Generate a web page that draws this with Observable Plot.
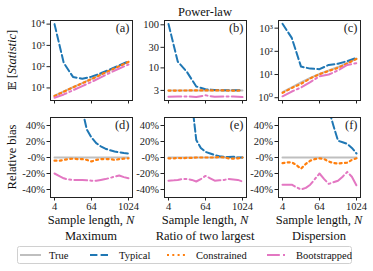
<!DOCTYPE html>
<html><head><meta charset="utf-8">
<script src="https://cdn.jsdelivr.net/npm/d3@7"></script>
<script src="https://cdn.jsdelivr.net/npm/@observablehq/plot@0.6"></script>
<style>
body{margin:0;background:#fff;}
#fig{position:relative;width:373px;height:271px;overflow:hidden;font-family:'Liberation Serif','Times New Roman',Tinos,'DejaVu Serif',serif;}
#fig svg{position:absolute;}
#fig text{font-family:'Liberation Serif','Times New Roman',Tinos,'DejaVu Serif',serif;}
</style></head><body><div id="fig"></div>
<script>
// ---- data ----
const N9 = [4, 8, 16, 32, 64, 128, 256, 512, 1024];
const N17 = [4, 6, 8, 11, 16, 23, 32, 45, 64, 91, 128, 181, 256, 362, 512, 724, 1024];
const seriesNames = ["True", "Typical", "Constrained", "Bootstrapped"];
const statNames = ["Maximum", "Ratio of two largest", "Dispersion"];
const panelLabels = ["(a)", "(b)", "(c)", "(d)", "(e)", "(f)"];
const xTicks = [4, 64, 1024];
const yTicksMax = [10, 100, 1000, 10000];
const yTicksRatio = [3, 10, 30, 100];
const yTicksDisp = [1, 10, 100, 1000];
const yTicksBias = [-0.4, -0.2, 0, 0.2, 0.4];

// expected statistic (top row)
const maxTrue = [4.3, 6.8, 10.8, 17, 27, 43, 68, 108, 170];
const maxTypical = [10000, 150, 33, 27, 34, 49, 74, 115, 178];
const maxConstrained = [4.15, 6.6, 10.6, 16.7, 25.7, 41.8, 66.6, 105, 168];
const maxBoot = [3.45, 4.95, 7.8, 12.2, 19.2, 31.4, 51.7, 82, 126];

const ratTrue = [3, 3, 3, 3, 3, 3, 3, 3, 3];
const ratTypical = [104, 14, 8, 3.7, 3.2, 3.08, 3.03, 3.02, 3.0];
const ratConstrained = [2.97, 2.98, 2.99, 3.0, 3.0, 3.0, 3.0, 2.96, 3.0];
const ratBoot = [2.13, 2.16, 2.18, 2.1, 2.31, 2.13, 2.16, 2.17, 2.1];

const dispTrue = [1.74, 2.8, 4.6, 7.1, 10.5, 15, 21, 32, 48];
const dispTypical = [1550, 380, 22, 18, 17, 26, 29, 38, 52];
const dispConstrained = [1.62, 2.63, 3.96, 6.8, 10.4, 14.3, 19.3, 30, 47.5];
const dispBoot = [1.15, 1.85, 2.76, 4.7, 8.4, 10, 15, 26, 31];

// relative bias (bottom row)
const biasTrue = [0, 0, 0, 0, 0, 0, 0, 0, 0, 0, 0, 0, 0, 0, 0, 0, 0];
const maxTypBias = [2300, 100, 20, 5, 2.0, 1.0, 0.6, 0.35, 0.25, 0.18, 0.14, 0.11, 0.09, 0.075, 0.065, 0.055, 0.05];
const maxConBias = [-0.04, -0.04, -0.03, -0.02, -0.015, -0.02, -0.02, -0.03, -0.05, -0.03, -0.02, -0.02, -0.02, -0.03, -0.02, -0.015, -0.01];
const maxBootBias = [-0.20, -0.235, -0.26, -0.275, -0.28, -0.28, -0.28, -0.285, -0.29, -0.29, -0.28, -0.27, -0.255, -0.24, -0.225, -0.245, -0.26];

const ratTypBias = [33, 10, 3.7, 2.0, 1.6, 0.7, 0.22, 0.12, 0.07, 0.05, 0.03, 0.015, 0.01, 0.005, 0.01, 0.0, 0.0];
const ratConBias = [-0.01, -0.01, -0.005, -0.01, -0.005, -0.005, 0, 0, 0, 0, 0, 0.005, 0, -0.01, -0.015, -0.01, 0];
const ratBootBias = [-0.29, -0.285, -0.28, -0.27, -0.27, -0.28, -0.30, -0.27, -0.23, -0.26, -0.29, -0.285, -0.28, -0.27, -0.275, -0.28, -0.30];

const dispTypBias = [890, 300, 130, 30, 4, 1.8, 1.6, 1.2, 0.8, 0.7, 0.6, 0.4, 0.21, 0.19, 0.17, 0.12, 0.05];
const dispConBias = [-0.07, -0.06, -0.06, -0.09, -0.14, -0.08, -0.04, -0.02, -0.01, -0.02, -0.05, -0.07, -0.075, -0.07, -0.065, -0.03, -0.01];
const dispBootBias = [-0.34, -0.34, -0.34, -0.37, -0.40, -0.38, -0.34, -0.27, -0.20, -0.27, -0.33, -0.31, -0.29, -0.24, -0.18, -0.24, -0.35];

// ---- styles / layout ----
const FONT = "'Liberation Serif','Times New Roman',Tinos,'DejaVu Serif',serif";
const STY = {
  True: {stroke: "#bfbfbf", strokeWidth: 2},
  Typical: {stroke: "#1f77b4", strokeWidth: 2, strokeDasharray: "7.4,3.2"},
  Constrained: {stroke: "#ff7f0e", strokeWidth: 2.2, strokeDasharray: "2,3.3"},
  Bootstrapped: {stroke: "#e377c2", strokeWidth: 2, strokeDasharray: "12.8,3.2,2,3.2"}
};
const colLeft = [50, 164, 278];
const rowTop = [20, 117];
const PW = 82, PH = 80;
const ML = 46, MR = 6, MT = 6, MB = 22;
const fig = document.getElementById("fig");

const sup = {"0":"⁰","1":"¹","2":"²","3":"³","4":"⁴"};
const powFmt = d => "10" + sup[String(Math.round(Math.log10(d)))];
const pctFmt = d => (d === 0 ? "-0" : String(Math.round(d * 100))) + "%";

function panel(col, row, Ns, vals, yScale, yTicks, yFmt, label) {
  const marks = [];
  seriesNames.forEach((name, s) => {
    const data = Ns.map((N, i) => ({N, v: vals[s][i]}));
    marks.push(Plot.line(data, {x: "N", y: "v", ...STY[name], clip: true}));
  });
  marks.push(
    Plot.axisX({ticks: xTicks, tickFormat: row === 1 ? (d => String(d)) : (() => ""), tickSize: 3.5, tickPadding: 1.5, label: null}),
    Plot.axisY({ticks: yTicks, tickFormat: yFmt, tickSize: 3.5, tickPadding: 2, label: null}),
    Plot.frame({stroke: "#222", strokeWidth: 1}),
    Plot.text([label], {text: d => d, frameAnchor: "top-right", dx: -3, dy: 3, fontSize: 12.5, lineAnchor: "top"})
  );
  const svg = Plot.plot({
    width: ML + PW + MR, height: MT + PH + MB,
    marginLeft: ML, marginRight: MR, marginTop: MT, marginBottom: MB,
    style: {fontFamily: FONT, fontSize: "10.5px", color: "#222", background: "transparent", overflow: "visible"},
    x: {type: "log", base: 2, domain: [4, 1024], inset: 4},
    y: yScale,
    marks
  });
  svg.style.left = (colLeft[col] - ML) + "px";
  svg.style.top = (rowTop[row] - MT) + "px";
  fig.appendChild(svg);
}

const biasY = {type: "linear", domain: [-0.5, 0.5]};
panel(0, 0, N9, [maxTrue, maxTypical, maxConstrained, maxBoot], {type: "log", domain: [Math.pow(10, 0.41), Math.pow(10, 4.17)]}, yTicksMax, powFmt, panelLabels[0]);
panel(1, 0, N9, [ratTrue, ratTypical, ratConstrained, ratBoot], {type: "log", domain: [Math.pow(10, 0.243), Math.pow(10, 2.1)]}, yTicksRatio, d => String(d), panelLabels[1]);
panel(2, 0, N9, [dispTrue, dispTypical, dispConstrained, dispBoot], {type: "log", domain: [Math.pow(10, -0.12), Math.pow(10, 3.33)]}, yTicksDisp, powFmt, panelLabels[2]);
panel(0, 1, N17, [biasTrue, maxTypBias, maxConBias, maxBootBias], biasY, yTicksBias, pctFmt, panelLabels[3]);
panel(1, 1, N17, [biasTrue, ratTypBias, ratConBias, ratBootBias], biasY, yTicksBias, pctFmt, panelLabels[4]);
panel(2, 1, N17, [biasTrue, dispTypBias, dispConBias, dispBootBias], biasY, yTicksBias, pctFmt, panelLabels[5]);

// ---- overlay texts & legend ----
const ov = d3.select(fig).append("svg").attr("width", 373).attr("height", 271)
  .style("left", "0px").style("top", "0px").style("pointer-events", "none");

ov.append("text").attr("x", colLeft[1] + PW / 2).attr("y", 16).attr("text-anchor", "middle")
  .attr("font-size", 12.5).attr("fill", "#111").text("Power-law");

const yl1 = ov.append("text").attr("transform", `translate(16,${rowTop[0] + PH / 2}) rotate(-90)`)
  .attr("text-anchor", "middle").attr("font-size", 12.5).attr("fill", "#111");
yl1.append("tspan").style("font-family", "'DejaVu Serif','DejaVu Sans',serif").attr("font-size", 11.5).text("𝔼");
yl1.append("tspan").text(" [");
yl1.append("tspan").attr("font-style", "italic").text("Statistic");
yl1.append("tspan").text("]");

ov.append("text").attr("transform", `translate(16,${rowTop[1] + PH / 2}) rotate(-90)`)
  .attr("text-anchor", "middle").attr("font-size", 12.5).attr("fill", "#111").text("Relative bias");

statNames.forEach((name, c) => {
  const cx = colLeft[c] + PW / 2;
  const t = ov.append("text").attr("x", cx).attr("y", 224).attr("text-anchor", "middle").attr("font-size", 12.5).attr("fill", "#111");
  t.append("tspan").text("Sample length, ");
  t.append("tspan").attr("font-style", "italic").text("N");
  ov.append("text").attr("x", cx).attr("y", 240).attr("text-anchor", "middle").attr("font-size", 12.5).attr("fill", "#111").text(name);
});

ov.append("rect").attr("x", 17.5).attr("y", 246.5).attr("width", 334).attr("height", 17).attr("rx", 2)
  .attr("fill", "#fff").attr("stroke", "#d0d0d0");
const legX = [20, 90, 167, 267];
seriesNames.forEach((name, i) => {
  const st = STY[name];
  ov.append("line").attr("x1", legX[i]).attr("x2", legX[i] + 21).attr("y1", 255).attr("y2", 255)
    .attr("stroke", st.stroke).attr("stroke-width", st.strokeWidth).attr("stroke-dasharray", st.strokeDasharray || null);
  ov.append("text").attr("x", legX[i] + 29).attr("y", 258.5).attr("font-size", 10.5).attr("fill", "#111").text(name);
});
</script></body></html>
